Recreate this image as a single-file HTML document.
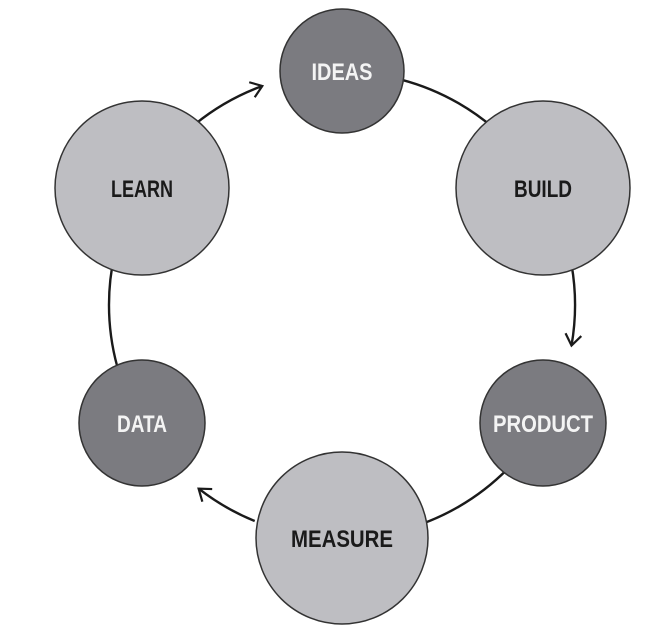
<!DOCTYPE html>
<html><head><style>html,body{margin:0;padding:0;background:#fff}svg{display:block}</style></head>
<body>
<svg width="670" height="644" viewBox="0 0 670 644" xmlns="http://www.w3.org/2000/svg">
<defs>
<marker id="a" markerWidth="20" markerHeight="20" refX="14" refY="10" orient="auto" markerUnits="userSpaceOnUse">
<path d="M3,2 L14,10 L3,18" fill="none" stroke="#1a1a1a" stroke-width="2.2"/>
</marker>
</defs>
<g fill="none" stroke="#1a1a1a" stroke-width="2.4">
<path d="M342,72 A233,233 0 0 1 543.8,188.5"/>
<path d="M543.8,421.5 A233,233 0 0 1 342,538"/>
<path d="M140.2,421.5 A233,233 0 0 1 140.2,188.5"/>
<path d="M195.4,123.9 A233,233 0 0 1 262.3,86" marker-end="url(#a)"/>
<path d="M571.5,264.5 A233,233 0 0 1 571.5,345.5" marker-end="url(#a)"/>
<path d="M254.7,521 A233,233 0 0 1 198.6,488.6" marker-end="url(#a)"/>
</g>
<g stroke="#333" stroke-width="1.5">
<circle cx="342" cy="71" r="62" fill="#7b7b80"/>
<circle cx="543" cy="188" r="87" fill="#bebec2"/>
<circle cx="543" cy="423" r="63" fill="#7b7b80"/>
<circle cx="342" cy="538" r="86" fill="#bebec2"/>
<circle cx="142" cy="423" r="63" fill="#7b7b80"/>
<circle cx="142" cy="188" r="87" fill="#bebec2"/>
</g>
<g font-family="'Liberation Sans',sans-serif" font-weight="bold" font-size="24" text-anchor="middle" lengthAdjust="spacingAndGlyphs">
<text x="342" y="80" fill="#f4f4f4" textLength="61" lengthAdjust="spacingAndGlyphs">IDEAS</text>
<text x="543" y="197" fill="#1a1a1a" textLength="58" lengthAdjust="spacingAndGlyphs">BUILD</text>
<text x="543" y="432" fill="#f4f4f4" textLength="100" lengthAdjust="spacingAndGlyphs">PRODUCT</text>
<text x="342" y="547" fill="#1a1a1a" textLength="102" lengthAdjust="spacingAndGlyphs">MEASURE</text>
<text x="142" y="432" fill="#f4f4f4" textLength="50" lengthAdjust="spacingAndGlyphs">DATA</text>
<text x="142" y="197" fill="#1a1a1a" textLength="62" lengthAdjust="spacingAndGlyphs">LEARN</text>
</g>
</svg>
</body></html>
